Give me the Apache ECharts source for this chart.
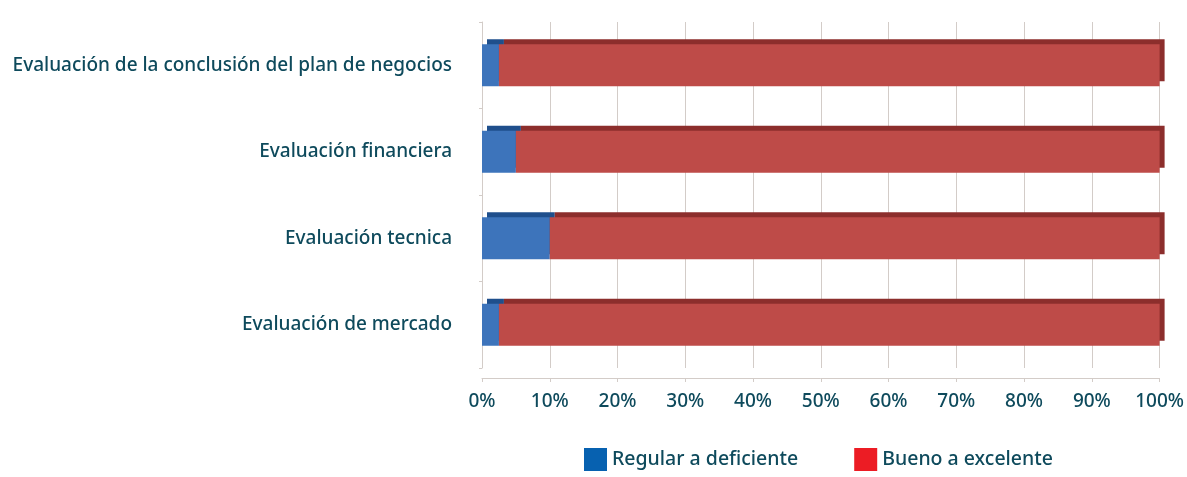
<!DOCTYPE html>
<html>
<head>
<meta charset="utf-8">
<script src="https://cdn.jsdelivr.net/npm/echarts@6/dist/echarts.min.js"></script>
<style>
html, body { margin: 0; padding: 0; background: #fff; }
#chart { width: 1187px; height: 477px; }
</style>
</head>
<body>
<div id="chart"></div>
<script>
var categories = ['Evaluación de mercado', 'Evaluación tecnica', 'Evaluación financiera', 'Evaluación de la conclusión del plan de negocios'];
var regular = [2.5, 10, 5, 2.5];
var bueno = [97.5, 90, 95, 97.5];
var seriesNames = ['Regular a deficiente', 'Bueno a excelente'];

var chart = echarts.init(document.getElementById('chart'));
var textColor = '#0e4a5c';
var lineColor = '#d3ccc8';

var option = {
  animation: false,
  grid: { left: 482, right: 27, top: 22, bottom: 109 },
  legend: {
    bottom: 1,
    left: 579,
    itemWidth: 23,
    itemHeight: 23,
    itemGap: 56,
    icon: 'rect',
    textStyle: { color: textColor, fontSize: 19.5, fontWeight: 500, fontFamily: 'Noto Sans' },
    data: [
      { name: seriesNames[0], itemStyle: { color: '#0761b0' } },
      { name: seriesNames[1], itemStyle: { color: '#ec1c24' } }
    ]
  },
  xAxis: {
    type: 'value',
    min: 0,
    max: 100,
    interval: 10,
    offset: 10,
    axisLabel: {
      formatter: '{value}%',
      color: textColor,
      fontSize: 19,
      fontWeight: 500,
      fontFamily: 'Noto Sans',
      margin: 14
    },
    axisLine: { show: true, lineStyle: { color: lineColor } },
    axisTick: { show: true, length: 4, lineStyle: { color: lineColor } },
    splitLine: { show: true, lineStyle: { color: lineColor, width: 1 } }
  },
  yAxis: {
    type: 'category',
    data: categories,
    offset: 12,
    axisLine: { show: true, lineStyle: { color: lineColor } },
    axisTick: { show: true, length: 3, lineStyle: { color: lineColor } },
    axisLabel: {
      color: textColor,
      fontSize: 19,
      fontWeight: 500,
      fontFamily: 'Noto Sans',
      margin: 18
    }
  },
  series: [
    {
      name: seriesNames[0],
      type: 'bar',
      stack: 'total',
      barWidth: 42,
      data: regular,
      itemStyle: {
        color: '#3d74bb',
        shadowColor: '#1f4f8c',
        shadowBlur: 0,
        shadowOffsetX: 5,
        shadowOffsetY: -5
      }
    },
    {
      name: seriesNames[1],
      type: 'bar',
      stack: 'total',
      barWidth: 42,
      data: bueno,
      itemStyle: {
        color: '#be4b48',
        shadowColor: '#8c2e2c',
        shadowBlur: 0,
        shadowOffsetX: 5,
        shadowOffsetY: -5
      }
    }
  ]
};

chart.setOption(option);
</script>
</body>
</html>
